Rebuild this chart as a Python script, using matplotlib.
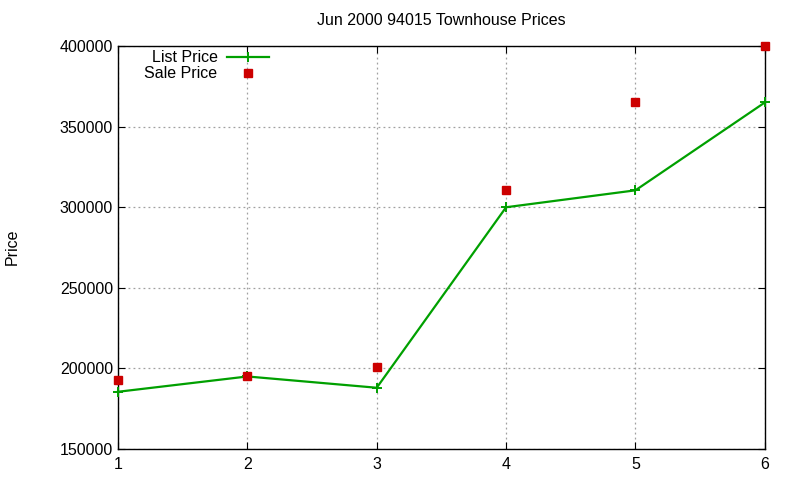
import matplotlib
matplotlib.use("Agg")
import matplotlib.pyplot as plt

plt.rcParams['font.family'] = ['Liberation Sans', 'DejaVu Sans']

# listing index
idx = [1, 2, 3, 4, 5, 6]
list_price = [185500, 195000, 188000, 300000, 310500, 365000]
sale_price = [192800, 195500, 201000, 310500, 365000, 400000]

fig = plt.figure(figsize=(8, 4.8), dpi=100)
ax = fig.add_axes([0.1475, 0.0646, 0.8085, 0.8394])

ax.plot(idx, list_price, color='#00a000', lw=1.6, marker='+', ms=7, mew=1.4,
        label='List Price', clip_on=False, zorder=3)
ax.plot(idx, sale_price, ls='none', color='#cc0000', marker='s', ms=6,
        label='Sale Price', clip_on=False, zorder=4)

ax.set_xlim(1, 6)
ax.set_ylim(150000, 400000)
ax.set_xticks(idx)
ax.set_yticks(range(150000, 400001, 50000))
ax.tick_params(direction='in', top=True, right=True, labelsize=11.5, length=5)
ax.tick_params(axis='x', pad=6)
ax.grid(True, color='#a0a0a0', ls=(0, (1.5, 2.5)), lw=0.9)
for s in ax.spines.values():
    s.set_linewidth(1.0)

ax.set_title('Jun 2000 94015 Townhouse Prices', fontsize=11.5, pad=15)
fig.text(12 / 800, 1 - 247 / 480, 'Price', fontsize=11.5, rotation=90,
         ha='center', va='center')

leg = ax.legend(loc='upper left', bbox_to_anchor=(0.031, 1.005), frameon=False,
                markerfirst=False, fontsize=11.5, numpoints=1, handlelength=2.6,
                handletextpad=0.6, labelspacing=0.05, borderaxespad=0)
for t in leg.get_texts():
    t.set_ha('right')

fig.savefig('out.png', dpi=100)
